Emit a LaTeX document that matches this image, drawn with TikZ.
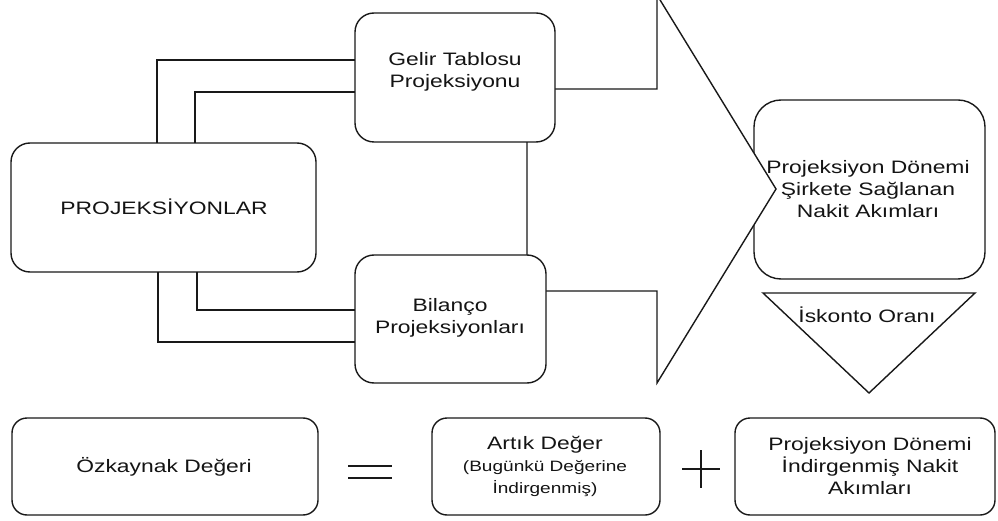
\documentclass[tikz,border=0pt]{standalone}
\usepackage{fontspec}
\setmainfont{Liberation Sans}[FakeStretch=1.27]
\newcommand{\mainfnt}{\fontsize{18}{22}\selectfont}
\newcommand{\smallfnt}{\fontsize{15}{22}\selectfont}
\begin{document}
\begin{tikzpicture}[x=1pt,y=-1pt,
  edge/.style={draw=black!90, line width=1.4pt},
  box/.style={edge, fill=white, rectangle, rounded corners=#1, inner sep=0pt, outer sep=0pt},
  box/.default=19pt,
  txt/.style={font=\mainfnt, text=black!92, align=center, inner sep=0pt},
  conn/.style={edge, line join=miter},
  sign/.style={draw=black!90, line width=1.1pt}]
\useasboundingbox (0,0) rectangle (998,521);

% result box on the right (its text is set later, above the arrow)
\node[box=27pt, minimum width=231pt, minimum height=179pt] (nakit) at (869.5,189.5) {};

% big block arrow from the projections to the cash flows
\draw[edge, fill=white, line join=miter]
  (527,89) -- (657,89) -- (657,-5) -- (776,189) -- (657,383) -- (657,291) -- (527,291) -- cycle;

% projection boxes
\node[box, minimum width=200pt, minimum height=129pt] (gelir) at (455,77.5) {};
\node[box, minimum width=191pt, minimum height=128pt] (bilanco) at (450.5,319) {};
\node[box, minimum width=305pt, minimum height=129pt] (proj) at (163.5,207.5) {};

% connectors between the projection boxes
\coordinate (a1) at (157,60);
\coordinate (a2) at (195,92);
\coordinate (b1) at (158,342);
\coordinate (b2) at (197,310);
\draw[conn] (proj.north -| a1) |- (gelir.west |- a1);
\draw[conn] (proj.north -| a2) |- (gelir.west |- a2);
\draw[conn] (proj.south -| b1) |- (bilanco.west |- b1);
\draw[conn] (proj.south -| b2) |- (bilanco.west |- b2);

% discount rate triangle
\draw[edge, fill=white, line join=miter] (763,293) -- (975,293) -- (869,393) -- cycle;

% texts of the upper part
\node[txt] (tproj) at (164,207) {PROJEKSİYONLAR};
\node[txt] (tgelir) at (455,72) {Gelir Tablosu\\Projeksiyonu};
\node[txt] (tbil) at (450,318) {Bilanço\\Projeksiyonları};
\node[txt] (tnakit) at (868,189) {Projeksiyon Dönemi\\Şirkete Sağlanan\\Nakit Akımları};
\node[txt, anchor=base] (tisk) at (867,322) {İskonto Oranı};

% equity value equation
\node[box=15pt, minimum width=306pt, minimum height=97pt] (ozk) at (165,466.5) {};
\node[box=15pt, minimum width=228pt, minimum height=97pt] (artik) at (546,466.5) {};
\node[box=15pt, minimum width=260pt, minimum height=97pt] (indir) at (865,466.5) {};
\node[txt, anchor=base] (tozk) at (164,472) {Özkaynak Değeri};
\node[txt] (tartik) at (545,466) {Artık Değer\\{\smallfnt (Bugünkü Değerine}\\{\smallfnt İndirgenmiş)}};
\node[txt] (tindir) at (870,466) {Projeksiyon Dönemi\\İndirgenmiş Nakit\\Akımları};

% equals and plus signs
\draw[sign] (348,466) -- (392,466);
\draw[sign] (348,478) -- (392,478);
\draw[sign] (682,469) -- (720,469);
\draw[sign] (701,450) -- (701,488);
\end{tikzpicture}
\end{document}
